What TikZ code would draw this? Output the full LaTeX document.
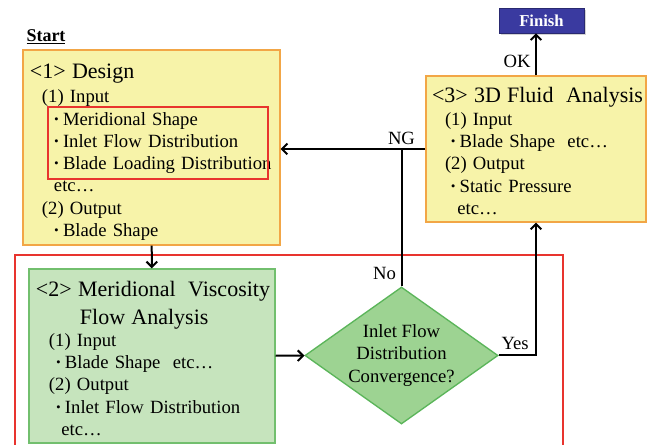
\documentclass[tikz,border=0pt]{standalone}
\usepackage{fontspec}
\setmainfont{Liberation Serif}
\usetikzlibrary{shapes.geometric,shadows,arrows.meta}

\definecolor{boxyellow}{HTML}{F7F3A9}
\definecolor{boxorange}{HTML}{F2A646}
\definecolor{visfill}{HTML}{C6E4BD}
\definecolor{visline}{HTML}{72BF6E}
\definecolor{decfill}{HTML}{9DD392}
\definecolor{decline}{HTML}{5BB55A}
\definecolor{framered}{HTML}{E8342E}
\definecolor{finblue}{HTML}{3A3AA0}

\newcommand{\headfont}{\fontsize{16.5}{19}\selectfont}
\newcommand{\itemdot}{\makebox[9.75pt][c]{\textbf{\textperiodcentered}}}

\begin{document}
\begin{tikzpicture}[x=0.75pt, y=-0.75pt, >={Straight Barb[length=4pt, width=8pt]},
  font={\fontsize{14}{16.7}\selectfont},
  stepbox/.style={draw=boxorange, fill=boxyellow, line width=1pt, align=left, inner xsep=5.25pt},
  visbox/.style={draw=visline, fill=visfill, line width=1pt, align=left, inner xsep=5.25pt},
  decision/.style={diamond, draw=decline, fill=decfill, line width=1pt, aspect=1.41,
    minimum width=143.25pt, minimum height=101.25pt, inner sep=0pt, align=center},
  redframe/.style={draw=framered, line width=1pt},
  endbox/.style={draw=finblue!70!black, fill=finblue, text=white, font={\fontsize{12.5}{15}\selectfont\bfseries},
    minimum width=63.75pt, minimum height=18.75pt,
    drop shadow={opacity=0.35, shadow xshift=1.2pt, shadow yshift=-1.2pt}},
  flow/.style={->, line width=1.5pt},
  link/.style={line width=1.5pt}]
\useasboundingbox (0,0) rectangle (651,445);
\clip (0,0) rectangle (651,445);

% loop of step <2>
\draw[redframe] (15,255) rectangle (563,470);

\node[font={\fontsize{13.5}{16}\selectfont\bfseries}] (start) at (46,37) {\underline{Start}};

\node[stepbox, text width=182.25pt, minimum height=143.25pt] (design) at (151.5,147.5) {%
  {\headfont\rule{0pt}{18pt}<1> Design}\\[1.5pt]
  \hspace*{9pt}(1) Input\\
  \hspace*{15pt}\itemdot Meridional Shape\\
  \hspace*{15pt}\itemdot Inlet Flow Distribution\\
  \hspace*{15pt}\itemdot Blade Loading Distribution\\
  \hspace*{18pt}etc…\\
  \hspace*{9pt}(2) Output\\
  \hspace*{15pt}\itemdot Blade Shape};
\node[redframe, minimum width=165pt, minimum height=54pt, inner sep=0pt] (focus) at (158,143) {};

\node[stepbox, inner xsep=4.5pt, text width=156pt, minimum height=109.5pt] (fluid) at (536,149) {%
  \mbox{\headfont\rule{0pt}{14.2pt}<3> 3D Fluid\ \ Analysis}\\[0.5pt]
  \hspace*{9.75pt}(1) Input\\
  \hspace*{11pt}\itemdot Blade Shape\ \ etc…\\
  \hspace*{9.75pt}(2) Output\\
  \hspace*{11pt}\itemdot Static Pressure\\
  \hspace*{19pt}etc…};

\node[endbox] (finish) at (541.5,20.5) {Finish};

\node[visbox, text width=174pt, minimum height=130.5pt] (visc) at (152,356) {%
  \mbox{\headfont\rule{0pt}{15pt}<2> Meridional\ \ Viscosity}\\[4.75pt]
  \hspace*{33pt}{\headfont Flow Analysis}\\[-0.5pt]
  \hspace*{9.75pt}(1) Input\\
  \hspace*{12pt}\itemdot Blade Shape\ \ etc…\\
  \hspace*{9.75pt}(2) Output\\
  \hspace*{12pt}\itemdot Inlet Flow Distribution\\
  \hspace*{19pt}etc…};

\node[decision] (conv) at (401.5,355.5) {Inlet Flow\\Distribution\\Convergence?};

\draw[flow] (design) -- (visc);
\draw[flow] (visc) -- (conv);
\draw[flow] (conv.east) -| node[pos=0.22, above] {Yes} (fluid.south);
\coordinate (ng) at (conv.north |- fluid.west);
\draw[link] (conv.north) -- node[pos=0.09, left] {No} (ng);
\draw[flow] (fluid.west) -- (fluid.west -| design.east);
\node[above] (nglabel) at (ng) {NG};
\draw[flow] (fluid.north) -- node[pos=0.33, left] {OK} (fluid.north |- finish.south);
\end{tikzpicture}
\end{document}
